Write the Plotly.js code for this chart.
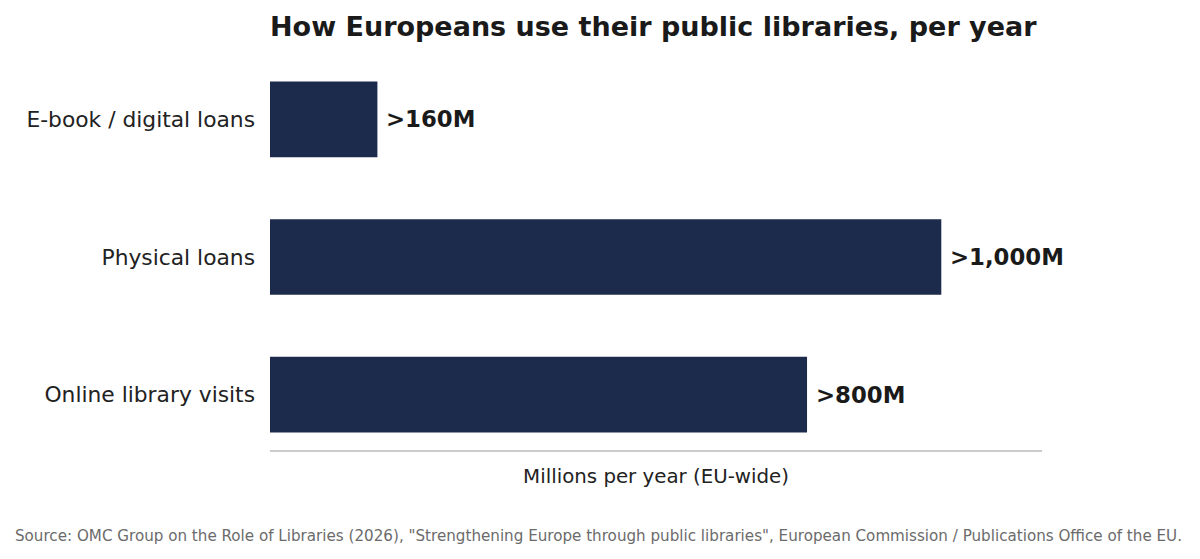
<!DOCTYPE html>
<html>
<head>
<meta charset="utf-8">
<script src="https://cdn.plot.ly/plotly-3.0.1.min.js"></script>
<style>
  html, body { margin: 0; padding: 0; background: #ffffff; }
  #chart { width: 1200px; height: 559px; }
</style>
</head>
<body>
<div id="chart"></div>
<script>
// Dữ liệu biểu đồ
var categories = ['E-book / digital loans', 'Physical loans', 'Online library visits'];
var values = [160, 1000, 800];
var value_labels = ['>160M', '>1,000M', '>800M'];

var FONT = 'DejaVu Sans, Verdana, sans-serif';
var BAR_COLOR = '#1c2b4b';

var trace = {
    type: 'bar',
    orientation: 'h',
    y: categories,
    x: values,
    width: 0.55,
    marker: { color: BAR_COLOR, line: { width: 0 } },
    hoverinfo: 'skip'
};

// Nhãn giá trị cạnh mỗi thanh
var labels = categories.map(function(cat, i){
    return {
        x: values[i], y: cat, xref: 'x', yref: 'y',
        text: value_labels[i], showarrow: false,
        xanchor: 'left', yanchor: 'middle', xshift: 7,
        font: { family: FONT, size: 22.8, color: '#1a1a1a', weight: 'bold' }
    };
});

// Dòng nguồn
labels.push({
    x: -0.3329, y: -0.222, xref: 'paper', yref: 'paper',
    text: 'Source: OMC Group on the Role of Libraries (2026), "Strengthening Europe through public libraries", European Commission / Publications Office of the EU.',
    showarrow: false, xanchor: 'left', yanchor: 'middle',
    font: { family: FONT, size: 15.15, color: '#6b6b6b' }
});

var layout = {
    width: 1200,
    height: 559,
    paper_bgcolor: '#ffffff',
    plot_bgcolor: '#ffffff',
    margin: { l: 270, r: 158, t: 64, b: 109 },
    showlegend: false,
    title: {
        text: 'How Europeans use their public libraries, per year',
        x: 0, xref: 'paper', xanchor: 'left',
        y: 0.952, yref: 'container', yanchor: 'middle',
        font: { family: FONT, size: 27, color: '#1a1a1a', weight: 'bold' }
    },
    xaxis: {
        range: [0, 1150],
        showgrid: false,
        zeroline: false,
        showticklabels: false,
        ticks: '',
        showline: true,
        linecolor: '#cccccc',
        linewidth: 1.5,
        title: {
            text: 'Millions per year (EU-wide)',
            standoff: 18,
            font: { family: FONT, size: 19.8, color: '#222222' }
        }
    },
    yaxis: {
        type: 'category',
        categoryorder: 'array',
        categoryarray: categories,
        range: [2.4025, -0.4025],
        showgrid: false,
        zeroline: false,
        showline: false,
        ticks: '',
        ticklabelstandoff: 14,
        tickfont: { family: FONT, size: 21.8, color: '#222222' }
    },
    annotations: labels
};

Plotly.newPlot('chart', [trace], layout, { staticPlot: true, displayModeBar: false });
</script>
</body>
</html>
